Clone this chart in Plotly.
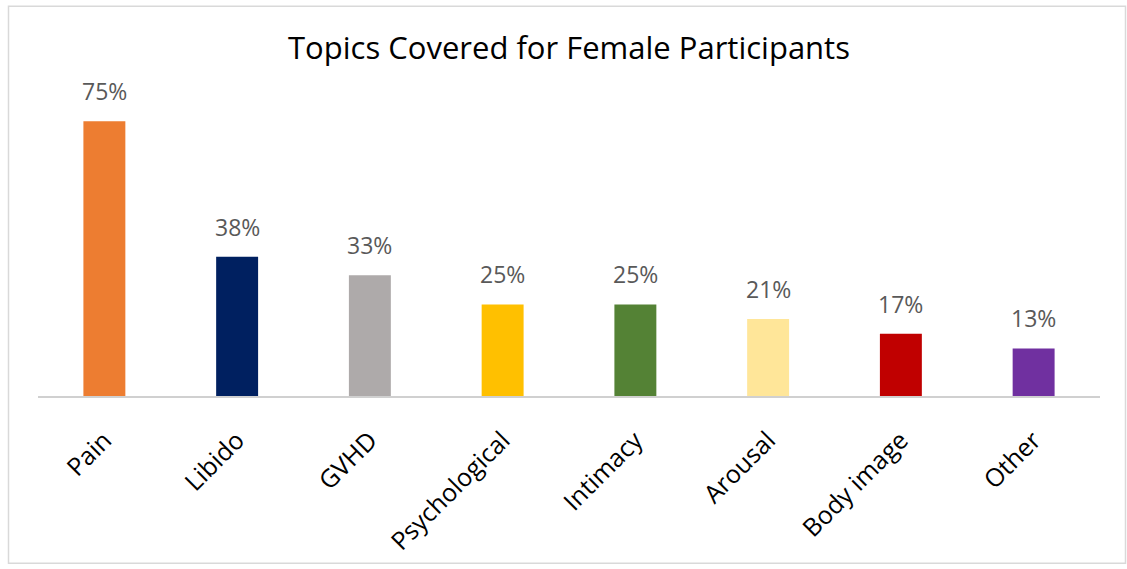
import plotly.graph_objects as go

# Chart data
categories = ["Pain", "Libido", "GVHD", "Psychological", "Intimacy", "Arousal", "Body image", "Other"]
percent_values = [75, 38, 33, 25, 25, 21, 17, 13]
bar_colors = ["#ED7D31", "#002060", "#AEAAAA", "#FFC000", "#548235", "#FFE699", "#C00000", "#7030A0"]

FONT = "Open Sans, Liberation Sans, sans-serif"
W, H = 1127, 569
ml, mr, mt, mb = 38, 27, 103, 171
pw = W - ml - mr
ph = H - mt - mb


def paper_x(px):
    return (px - ml) / pw


def paper_y(py_from_top):
    return ((H - py_from_top) - mb) / ph


fig = go.Figure(
    go.Bar(
        x=categories,
        y=percent_values,
        marker=dict(color=bar_colors, line=dict(width=0)),
        cliponaxis=False,
        hoverinfo="skip",
    )
)

# value labels above each bar
for cat, val in zip(categories, percent_values):
    fig.add_annotation(
        x=cat,
        y=val,
        xref="x",
        yref="y",
        text=f"{val}%",
        showarrow=False,
        yanchor="bottom",
        yshift=12,
        font=dict(family=FONT, size=23, color="#595959"),
    )

fig.update_layout(
    width=W,
    height=H,
    margin=dict(l=ml, r=mr, t=mt, b=mb),
    paper_bgcolor="white",
    plot_bgcolor="white",
    bargap=0.684,
    showlegend=False,
    title=dict(
        text="Topics Covered for Female Participants",
        x=0.5,
        xref="paper",
        xanchor="center",
        y=1 - 48 / H,
        yanchor="middle",
        font=dict(family=FONT, size=31, color="#000000"),
    ),
    xaxis=dict(
        showgrid=False,
        showline=True,
        linecolor="#D0D0D0",
        linewidth=1.5,
        tickangle=-45,
        ticks="",
        ticklabelstandoff=18,
        tickfont=dict(family=FONT, size=25, color="#000000"),
    ),
    yaxis=dict(
        range=[0, 80],
        visible=False,
        showgrid=False,
        zeroline=False,
    ),
    shapes=[
        dict(
            type="rect",
            xref="paper",
            yref="paper",
            x0=paper_x(8.5),
            x1=paper_x(1125.5),
            y0=paper_y(566.5),
            y1=paper_y(5.5),
            line=dict(color="#D9D9D9", width=1.5),
            fillcolor="rgba(0,0,0,0)",
            layer="below",
        )
    ],
)

fig.write_html("out.html")
